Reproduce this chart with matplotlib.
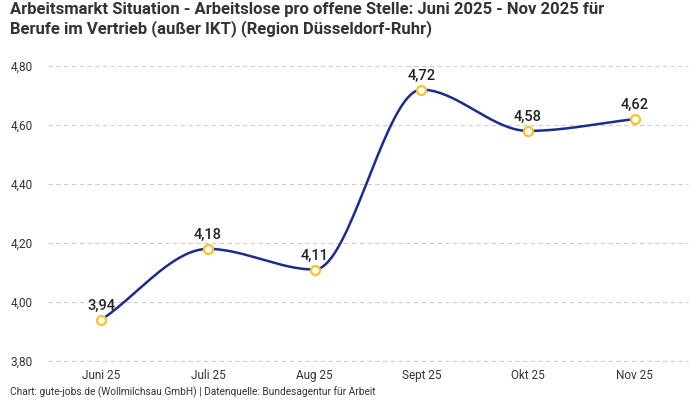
import numpy as np
import matplotlib.pyplot as plt

plt.rcParams['font.family'] = ['Roboto', 'DejaVu Sans']

months = ['Juni 25', 'Juli 25', 'Aug 25', 'Sept 25', 'Okt 25', 'Nov 25']
values = [3.94, 4.18, 4.11, 4.72, 4.58, 4.62]
value_labels = ['3,94', '4,18', '4,11', '4,72', '4,58', '4,62']
y_ticks = [3.80, 4.00, 4.20, 4.40, 4.60, 4.80]
y_tick_labels = ['3,80', '4,00', '4,20', '4,40', '4,60', '4,80']

title = ('Arbeitsmarkt Situation - Arbeitslose pro offene Stelle: Juni 2025 - Nov 2025 für\n'
         'Berufe im Vertrieb (außer IKT) (Region Düsseldorf-Ruhr)')
footer = 'Chart: gute-jobs.de (Wollmilchsau GmbH) | Datenquelle: Bundesagentur für Arbeit'


def monotone_curve(x, y, n=40):
    # Fritsch-Carlson monotone cubic, only for drawing the smooth line
    x = np.asarray(x, float)
    y = np.asarray(y, float)
    h = np.diff(x)
    d = np.diff(y) / h
    m = np.zeros_like(y)
    m[0], m[-1] = d[0], d[-1]
    for i in range(1, len(y) - 1):
        if d[i - 1] * d[i] <= 0:
            m[i] = 0
        else:
            w1 = 2 * h[i] + h[i - 1]
            w2 = h[i] + 2 * h[i - 1]
            m[i] = (w1 + w2) / (w1 / d[i - 1] + w2 / d[i])
    xs, ys = [], []
    for i in range(len(x) - 1):
        t = np.linspace(0, 1, n)
        h00 = 2 * t**3 - 3 * t**2 + 1
        h10 = t**3 - 2 * t**2 + t
        h01 = -2 * t**3 + 3 * t**2
        h11 = t**3 - t**2
        xs.append(x[i] + t * h[i])
        ys.append(h00 * y[i] + h10 * h[i] * m[i] + h01 * y[i + 1] + h11 * h[i] * m[i + 1])
    return np.concatenate(xs), np.concatenate(ys)


fig = plt.figure(figsize=(7, 4), dpi=100)
ax = fig.add_axes([0.0686, 0.0975, 0.9144, 0.7375])

xi = np.arange(len(months))
cx, cy = monotone_curve(xi, values)
ax.plot(cx, cy, color='#1c2b8c', lw=1.8, zorder=2)
ax.scatter(xi, values, s=42, facecolor='white', edgecolor='#f7c325', lw=1.6, zorder=3)

for x, v, lab in zip(xi, values, value_labels):
    ax.annotate(lab, (x, v), xytext=(0, 5), textcoords='offset points',
                ha='center', va='bottom', fontsize=10.5, color='#222222', fontweight='medium')

ax.set_xlim(-0.5, 5.5)
ax.set_ylim(3.8, 4.8)
ax.set_xticks(xi)
ax.set_xticklabels(months)
ax.set_yticks(y_ticks)
ax.set_yticklabels(y_tick_labels)
ax.tick_params(length=0, labelsize=8.5, colors='#333333')
ax.tick_params(axis='x', pad=6)
ax.tick_params(axis='y', pad=11)
ax.grid(axis='y', color='#cccccc', ls=(0, (4, 3)), lw=0.8)
ax.set_axisbelow(True)
for s in ax.spines.values():
    s.set_visible(False)
for gl in ax.get_ygridlines():
    gl.set_clip_on(False)

fig.text(0.014, 0.995, title, ha='left', va='top', fontsize=12, fontweight='bold',
         color='#333333', linespacing=1.25)
fig.text(0.014, 0.005, footer, ha='left', va='bottom', fontsize=7.3, color='#333333')

fig.savefig('out.png', dpi=100)
